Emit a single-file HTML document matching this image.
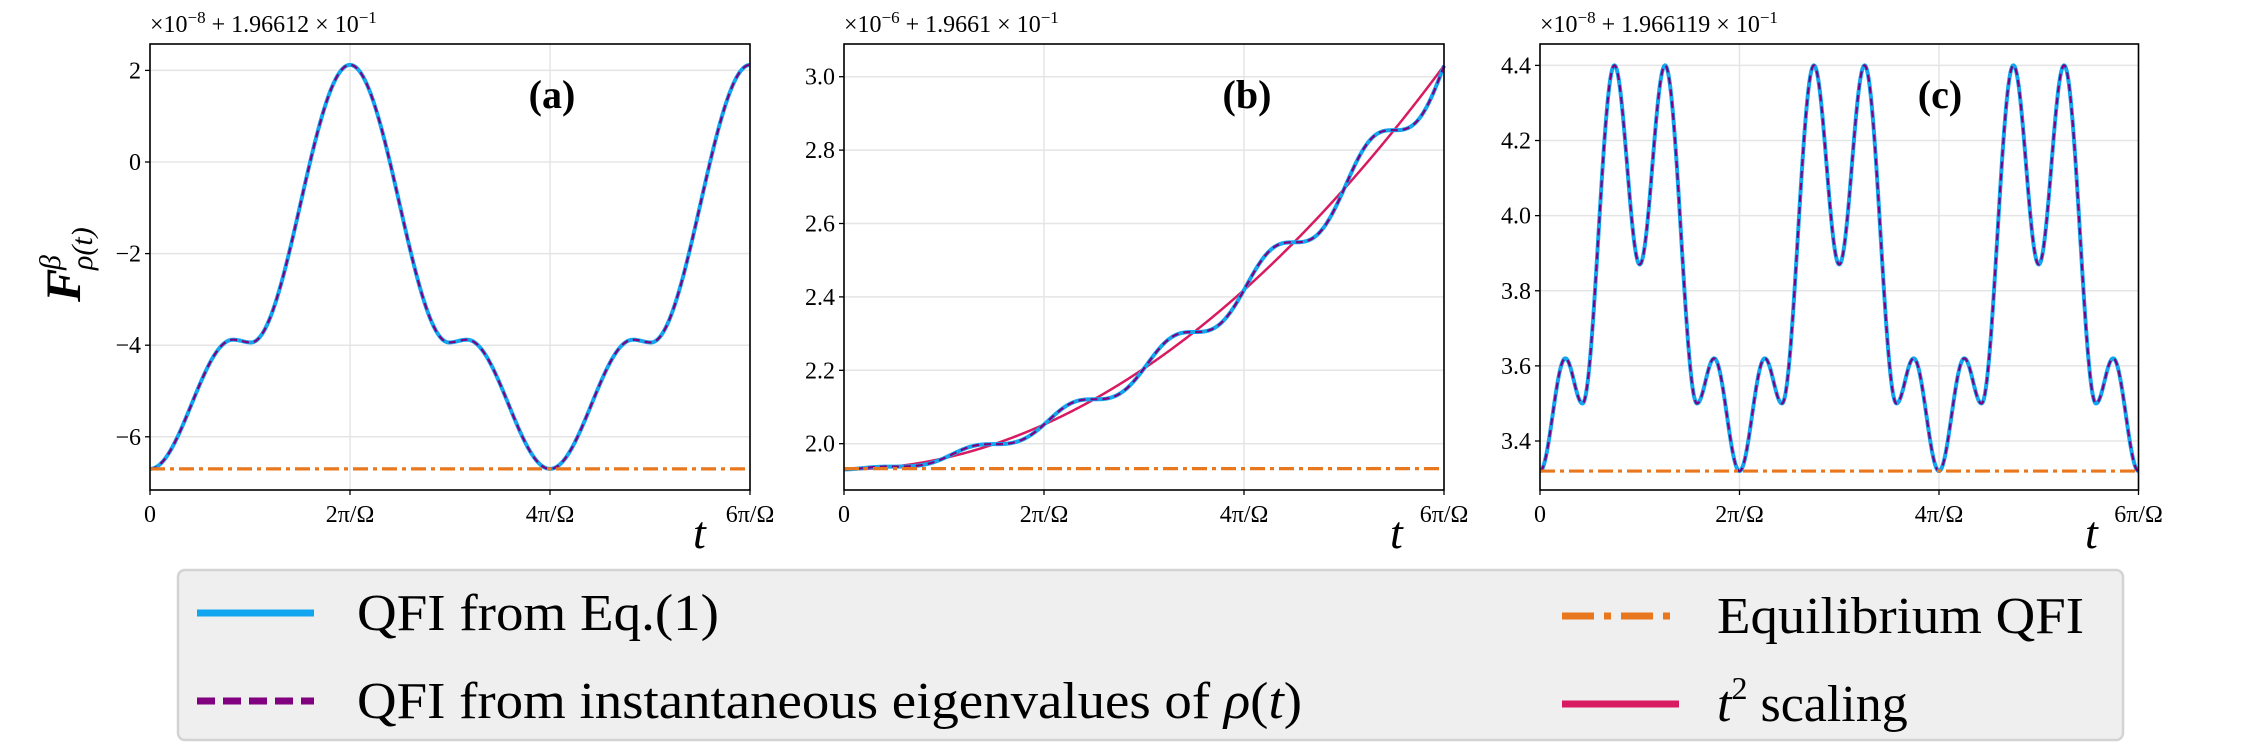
<!DOCTYPE html>
<html><head><meta charset="utf-8">
<style>
html,body{margin:0;padding:0;background:#fff;}
svg{display:block;}
text{font-family:"Liberation Serif",serif;fill:#000;}
</style></head>
<body>
<svg id="s" width="2245" height="756" viewBox="0 0 2245 756" xmlns="http://www.w3.org/2000/svg">
<g id="plots"></g>
<!-- y label -->
<g transform="translate(80,262) rotate(-90)">
<text x="-40" y="0" font-size="50" font-style="italic" font-weight="bold">F</text>
<text x="-8" y="-20" font-size="30" font-style="italic">β</text>
<text x="-8" y="12" font-size="30" font-style="italic">ρ(t)</text>
</g>
<!-- Legend -->
<rect x="178" y="570" width="1945" height="170" rx="7" fill="#efefef" stroke="#d3d3d3" stroke-width="2.5"/>
<line x1="197" y1="613" x2="314" y2="613" stroke="#12a5f0" stroke-width="7"/>
<text x="357" y="630" font-size="52" textLength="362" lengthAdjust="spacingAndGlyphs">QFI from Eq.(1)</text>
<line x1="197" y1="701" x2="314" y2="701" stroke="#800080" stroke-width="7" stroke-dasharray="18,8"/>
<text x="357" y="718" font-size="52" textLength="945" lengthAdjust="spacingAndGlyphs">QFI from instantaneous eigenvalues of <tspan font-style="italic">ρ</tspan>(<tspan font-style="italic">t</tspan>)</text>
<line x1="1562" y1="616" x2="1673" y2="616" stroke="#e8771e" stroke-width="7" stroke-dasharray="32,10,7,10"/>
<text x="1717" y="633" font-size="52" textLength="367" lengthAdjust="spacingAndGlyphs">Equilibrium QFI</text>
<line x1="1562" y1="704" x2="1679" y2="704" stroke="#d81b60" stroke-width="7"/>
<text x="1717" y="721" font-size="52"><tspan font-style="italic">t</tspan><tspan font-size="32" dy="-22">2</tspan><tspan dy="22"> scaling</tspan></text>
</svg>
<script>
(function(){
var NS="http://www.w3.org/2000/svg";
var g=document.getElementById("plots");
function el(n,a,txt){var e=document.createElementNS(NS,n);for(var k in a)e.setAttribute(k,a[k]);if(txt!==undefined)e.textContent=txt;g.appendChild(e);return e;}
function interp(pts,x){
  for(var i=0;i<pts.length-1;i++){
    var a=pts[i],b=pts[i+1];
    if(x>=a[0]&&x<=b[0]){var s=(x-a[0])/(b[0]-a[0]);return a[1]+(b[1]-a[1])*(1-Math.cos(Math.PI*s))/2;}
  }
  return pts[pts.length-1][1];
}
function path(fn,x0,w,Yf){
  var d="";
  for(var i=0;i<=w*2;i++){var x=i/2;var v=fn(x);d+=(i?"L":"M")+(x0+x).toFixed(2)+","+Yf(v).toFixed(2);}
  return d;
}
function panel(o){
  var L=o.L,R=o.R,T=44,B=490;
  o.yt.forEach(function(v){var y=o.Y(v);el("line",{x1:L,x2:R,y1:y,y2:y,stroke:"#e5e5e5","stroke-width":1.5});});
  [0,1,2,3].forEach(function(k){var x=L+(R-L)*k/3;el("line",{x1:x,x2:x,y1:T,y2:B,stroke:"#e5e5e5","stroke-width":1.5});});
  if(o.red) el("path",{d:path(o.red,L,R-L,o.Y),fill:"none",stroke:"#d81b60","stroke-width":2.5});
  var d=path(o.fn,L,R-L,o.Y);
  el("path",{d:d,fill:"none",stroke:"#12a5f0","stroke-width":4});
  el("path",{d:d,fill:"none",stroke:"#800080","stroke-width":2.2,"stroke-dasharray":"7,5"});
  var ye=o.Y(o.eq);
  el("line",{x1:L,x2:R,y1:ye,y2:ye,stroke:"#e8771e","stroke-width":3.2,"stroke-dasharray":"15,5,4,5"});
  el("rect",{x:L,y:T,width:R-L,height:B-T,fill:"none",stroke:"#000","stroke-width":1.6});
  o.yt.forEach(function(v){var y=o.Y(v);el("line",{x1:L-5,x2:L,y1:y,y2:y,stroke:"#000","stroke-width":1.3});
    el("text",{x:L-9,y:y+8,"font-size":24,"text-anchor":"end"},o.fmt(v));});
  var labs=["0","2π/Ω","4π/Ω","6π/Ω"];
  [0,1,2,3].forEach(function(k){var x=L+(R-L)*k/3;el("line",{x1:x,x2:x,y1:B,y2:B+5,stroke:"#000","stroke-width":1.3});
    el("text",{x:x,y:522,"font-size":24,"text-anchor":"middle"},labs[k]);});
  var t=el("text",{x:L,y:32,"font-size":24});
  t.innerHTML='×10<tspan font-size="17" dy="-9">−'+o.e+'</tspan><tspan dy="9"> + '+o.off+' × 10</tspan><tspan font-size="17" dy="-9">−1</tspan>';
  el("text",{x:o.lx,y:108,"font-size":40,"font-weight":"bold","text-anchor":"middle"},o.lab);
  el("text",{x:o.tx,y:548,"font-size":46,"font-style":"italic"},"t");
}
var pa=[[0,-6.7],[83,-3.88],[101,-3.94],[200,2.12],[299,-3.94],[317,-3.88],[400,-6.7],[483,-3.88],[501,-3.94],[600,2.12]];
panel({L:150,R:750,Y:function(v){return 162-v*45.8;},yt:[-6,-4,-2,0,2],fmt:function(v){return v<0?"−"+(-v):""+v;},
 fn:function(x){return interp(pa,x);},eq:-6.7,e:"8",off:"1.96612",lab:"(a)",lx:552,tx:693});
function red(x){return 1.93+1.1*Math.pow(x/600,2);}
panel({L:844,R:1444,Y:function(v){return 443.7-(v-2.0)*367;},yt:[2.0,2.2,2.4,2.6,2.8,3.0],fmt:function(v){return v.toFixed(1);},
 fn:function(x){var h=x-Math.sin(2*Math.PI*(x-50)/100)*100/(2*Math.PI);return red(h);},red:red,eq:1.932,e:"6",off:"1.9661",lab:"(b)",lx:1247,tx:1390});
var pc=[];var base=[[0,3.32],[.127,3.62],[.213,3.50],[.373,4.40],[.5,3.87],[.627,4.40],[.787,3.50],[.873,3.62]];
for(var k=0;k<3;k++)base.forEach(function(p){pc.push([(p[0]+k)*199.5,p[1]]);});
pc.push([598.5,3.32]);
panel({L:1540,R:2138.5,Y:function(v){return 441-(v-3.4)*375.6;},yt:[3.4,3.6,3.8,4.0,4.2,4.4],fmt:function(v){return v.toFixed(1);},
 fn:function(x){return interp(pc,x);},eq:3.32,e:"8",off:"1.966119",lab:"(c)",lx:1940,tx:2085});
})();
</script>
</body></html>
